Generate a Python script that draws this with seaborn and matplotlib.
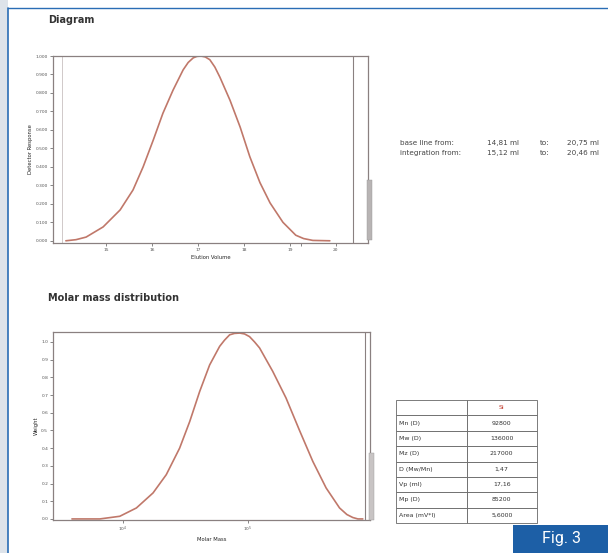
import matplotlib
matplotlib.use("Agg")
import matplotlib.pyplot as plt
import seaborn as sns
import pandas as pd
from matplotlib.patches import Rectangle
from matplotlib.ticker import FixedLocator, NullFormatter

sns.set_style("white")
plt.rcParams['font.family'] = ['DejaVu Sans']

# ---- data: elution diagram ----
elution_ml = [14.13, 14.35, 14.57, 14.94, 15.31, 15.59, 15.81, 16.03, 16.24, 16.46, 16.68, 16.79,
              16.90, 16.98, 17.07, 17.16, 17.26, 17.37, 17.48, 17.70, 17.92, 18.13, 18.35,
              18.57, 18.85, 19.13, 19.30, 19.50, 19.87]
detector = [0.0, 0.006, 0.02, 0.075, 0.167, 0.275, 0.40, 0.545, 0.69, 0.815, 0.925, 0.965,
            0.99, 0.998, 1.0, 0.995, 0.98, 0.94, 0.885, 0.76, 0.615, 0.455, 0.315,
            0.205, 0.10, 0.03, 0.012, 0.002, 0.0]
diag_xticks = [15, 16, 17, 18, 19, 19.25, 20]
diag_xlabels = ["15", "16", "17", "18", "19", "", "20"]
diag_yticks = [0.0, 0.1, 0.2, 0.3, 0.4, 0.5, 0.6, 0.7, 0.8, 0.9, 1.0]

# ---- data: molar mass distribution ----
molar_mass = [3900, 6520, 9420, 12800, 17400, 22200, 28400, 34200, 41100, 49400, 59400,
              65000, 71400, 78000, 85900, 94000, 103000, 113000, 124000, 158000, 202000,
              259000, 331000, 423000, 542000, 620000, 692000, 760000, 832000]
weight = [0.0, 0.0, 0.015, 0.062, 0.147, 0.25, 0.40, 0.55, 0.72, 0.87, 0.975,
          1.01, 1.04, 1.048, 1.05, 1.045, 1.03, 1.0, 0.966, 0.834, 0.683,
          0.50, 0.325, 0.175, 0.062, 0.025, 0.008, 0.0, 0.0]
mmd_xticks = [1e4, 1e5, 1e6]
mmd_xlabels = ["10$^4$", "10$^5$", "10$^6$"]
mmd_yticks = [0.0, 0.1, 0.2, 0.3, 0.4, 0.5, 0.6, 0.7, 0.8, 0.9, 1.0]

# ---- data: results table ----
table_params = ["Mn (D)", "Mw (D)", "Mz (D)", "D (Mw/Mn)", "Vp (ml)", "Mp (D)", "Area (mV*l)"]
table_values = ["92800", "136000", "217000", "1,47", "17,16", "85200", "5,6000"]
sample_name = "Si"

baseline_from, baseline_to = "14,81", "20,75"
integ_from, integ_to = "15,12", "20,46"

W, H = 608, 553
fig = plt.figure(figsize=(W / 100, H / 100), dpi=100)
fig.patch.set_facecolor("white")

def fa(x0, y0, x1, y1):
    return [x0 / W, 1 - y1 / H, (x1 - x0) / W, (y1 - y0) / H]

# background decorations
fig.patches.append(Rectangle((0, 0), 8 / W, 1, transform=fig.transFigure,
                             facecolor="#dde3ea", edgecolor="none", zorder=0))
fig.add_artist(plt.Line2D([8 / W, 8 / W], [0, 1 - 8 / H], transform=fig.transFigure,
                          color="#2a6db5", lw=1.2))
fig.add_artist(plt.Line2D([8 / W, 1], [1 - 8 / H, 1 - 8 / H], transform=fig.transFigure,
                          color="#2a6db5", lw=1.0))

curve_color = "#c0786a"
frame_color = "#8a8080"
tick_fs = 3.2

# ---- top: Diagram ----
ax1 = fig.add_axes(fa(53, 56, 368, 243))
df1 = pd.DataFrame({"Elution Volume": elution_ml, "Detector Response": detector})
sns.lineplot(data=df1, x="Elution Volume", y="Detector Response", ax=ax1,
             color=curve_color, lw=1.2)
ax1.set_xlim(13.85, 20.70)
ax1.set_ylim(-0.012, 1.0)
ax1.set_xticks(diag_xticks)
ax1.set_xticklabels(diag_xlabels)
ax1.set_yticks(diag_yticks)
ax1.set_yticklabels([f"{v:.3f}" for v in diag_yticks])
ax1.axvline(14.05, color="#c9c0c0", lw=0.6)
ax1.axvline(20.37, color=frame_color, lw=0.8)
ax1.set_xlabel("Elution Volume", fontsize=3.8, labelpad=2)
ax1.set_ylabel("Detector Response", fontsize=3.8, labelpad=2)
fig.text(48 / W, 1 - 20 / H, "Diagram", fontsize=7, fontweight="bold", va="center", color="#333")

# ---- bottom: Molar mass distribution ----
ax2 = fig.add_axes(fa(53, 332, 370, 520))
df2 = pd.DataFrame({"Molar Mass": molar_mass, "Weight": weight})
sns.lineplot(data=df2, x="Molar Mass", y="Weight", ax=ax2, color=curve_color, lw=1.2)
ax2.set_xscale("log")
ax2.set_xlim(2750, 9.5e5)
ax2.set_ylim(-0.006, 1.056)
ax2.xaxis.set_major_locator(FixedLocator(mmd_xticks))
ax2.set_xticklabels(mmd_xlabels)
ax2.xaxis.set_minor_formatter(NullFormatter())
ax2.set_yticks(mmd_yticks)
ax2.set_yticklabels([f"{v:.1f}" for v in mmd_yticks])
ax2.axvline(8.7e5, color=frame_color, lw=0.8)
ax2.set_xlabel("Molar Mass", fontsize=3.8, labelpad=2)
ax2.set_ylabel("Weight", fontsize=3.8, labelpad=2)
fig.text(48 / W, 1 - 298 / H, "Molar mass distribution", fontsize=7, fontweight="bold",
         va="center", color="#333")

for ax in (ax1, ax2):
    for s in ax.spines.values():
        s.set_color(frame_color)
        s.set_linewidth(0.9)
    ax.tick_params(axis="both", which="major", labelsize=tick_fs, length=2, width=0.5,
                   colors="#555", pad=1.5, bottom=True, left=True)
    ax.tick_params(axis="x", which="minor", length=1, width=0.3, bottom=True)

# small grey side bars
fig.patches.append(Rectangle((367 / W, 1 - 240 / H), 5 / W, 60 / H, transform=fig.transFigure,
                             facecolor="#b8b4b4", edgecolor="#999", lw=0.3))
fig.patches.append(Rectangle((369 / W, 1 - 520 / H), 5 / W, 67 / H, transform=fig.transFigure,
                             facecolor="#c8c4c4", edgecolor="#999", lw=0.3))

# baseline / integration text
txt_kw = dict(fontsize=5.2, va="center", color="#444")
for y, lab, v0, v1 in [(143, "base line from:", baseline_from, baseline_to),
                       (153, "integration from:", integ_from, integ_to)]:
    fig.text(400 / W, 1 - y / H, lab, **txt_kw)
    fig.text(487 / W, 1 - y / H, f"{v0} ml", **txt_kw)
    fig.text(540 / W, 1 - y / H, "to:", **txt_kw)
    fig.text(567 / W, 1 - y / H, f"{v1} ml", **txt_kw)

# table
axt = fig.add_axes(fa(396, 400, 537, 523))
axt.axis("off")
cells = [["", sample_name]] + [[p, v] for p, v in zip(table_params, table_values)]
tbl = axt.table(cellText=cells, bbox=[0, 0, 1, 1], cellLoc="left", colWidths=[0.5, 0.5])
tbl.auto_set_font_size(False)
for (r, c), cell in tbl.get_celld().items():
    cell.set_edgecolor("#666")
    cell.set_linewidth(0.6)
    cell.get_text().set_fontsize(4.5)
    cell.get_text().set_color("#333")
    cell.PAD = 0.04
    if c == 1:
        cell._loc = "center"
        cell.get_text().set_ha("center")
    if r == 0 and c == 1:
        cell.get_text().set_color("#c0392b")

# Fig. 3 label
fig.patches.append(Rectangle((513 / W, 0), (W - 513) / W, 28 / H, transform=fig.transFigure,
                             facecolor="#1d5fa6", edgecolor="none"))
fig.text(561 / W, 14 / H, "Fig. 3", fontsize=11.5, color="white", ha="center", va="center",
         family="Roboto")

fig.savefig("out.png", dpi=100, facecolor="white")
